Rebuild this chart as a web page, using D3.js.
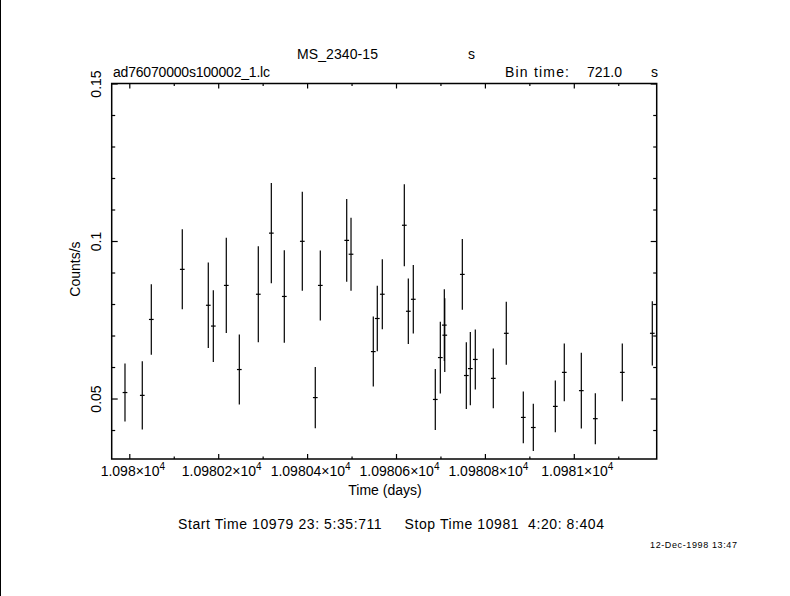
<!DOCTYPE html>
<html><head><meta charset="utf-8">
<script src="https://cdn.jsdelivr.net/npm/d3@7"></script>
<style>
body{margin:0;background:#fff;}
svg{display:block;font-family:"Liberation Sans",Arial,Helvetica,sans-serif;}
text{fill:#000;}
</style></head>
<body>
<script>
// ---- data ----
const time = [10979.9903,10980.0292,10980.0495,10980.1192,10980.1777,10980.1890,10980.2182,10980.2475,10980.2902,10980.3195,
              10980.3487,10980.3892,10980.4184,10980.4297,10980.4891,10980.4988,10980.5489,10980.5579,10980.5692,10980.6187,
              10980.6277,10980.6389,10980.6884,10980.6997,10980.7087,10980.7097,10980.7492,10980.7582,10980.7672,10980.7784,
              10980.8189,10980.8481,10980.8864,10980.9089,10980.9584,10980.9786,10981.0169,10981.0484,10981.1091,10981.1766];
const rate = [0.0519,0.0510,0.0751,0.0910,0.0796,0.0730,0.0859,0.0592,0.0831,0.1025,
              0.0824,0.0999,0.0503,0.0859,0.1002,0.0958,0.0649,0.0754,0.0831,0.1050,
              0.0777,0.0815,0.0497,0.0630,0.0733,0.0701,0.0894,0.0573,0.0595,0.0624,
              0.0564,0.0707,0.0440,0.0408,0.0475,0.0583,0.0525,0.0436,0.0583,0.0707];
const rateErr = [0.0092,0.0108,0.0112,0.0127,0.0136,0.0114,0.0151,0.0111,0.0152,0.0159,
                 0.0147,0.0157,0.0097,0.0111,0.0131,0.0116,0.0111,0.0104,0.0111,0.0130,
                 0.0104,0.0109,0.0097,0.0114,0.0114,0.0117,0.0112,0.0106,0.0116,0.0095,
                 0.0095,0.0100,0.0082,0.0075,0.0082,0.0092,0.0120,0.0081,0.0092,0.0102];
const binTimeSec = 721.0;
const xDomain = [10979.9604, 10981.1865];
const yDomain = [0.0308, 0.15];
const xMajorTicks = [10980.0,10980.2,10980.4,10980.6,10980.8,10981.0];
const xMajorLabels = ["1.098","1.09802","1.09804","1.09806","1.09808","1.0981"];
const yMajorTicks = [0.05,0.1,0.15];
const yMajorLabels = ["0.05","0.1","0.15"];

const W=790,H=596;
const L=111.7,R=656.7,T=83.5,B=459;
const svg=d3.select("body").append("svg").attr("width",W).attr("height",H);

const x=d3.scaleLinear().domain(xDomain).range([L,R]);
const y=d3.scaleLinear().domain(yDomain).range([B,T]);

const xMinor=d3.range(10979.9,10981.25,0.1).map(v=>+v.toFixed(1)).filter(v=>v>=xDomain[0]&&v<=xDomain[1]&&!xMajorTicks.some(m=>Math.abs(m-v)<1e-6));
const yMinor=d3.range(0.03,0.151,0.01).map(v=>+v.toFixed(2)).filter(v=>v>=yDomain[0]&&v<=yDomain[1]&&!yMajorTicks.some(m=>Math.abs(m-v)<1e-6));

function styleAxis(g){g.select(".domain").remove();g.selectAll("line").attr("stroke","#000").attr("stroke-width",1.2);}

// frame
svg.append("rect").attr("x",L).attr("y",T).attr("width",R-L).attr("height",B-T)
  .attr("fill","none").attr("stroke","#000").attr("stroke-width",1.5);
// left page edge line
svg.append("line").attr("x1",0.5).attr("x2",0.5).attr("y1",0).attr("y2",H).attr("stroke","#000").attr("stroke-width",1);

const fs=14;
// bottom axis
const gb=svg.append("g").attr("transform",`translate(0,${B})`)
  .call(d3.axisBottom(x).tickValues(xMajorTicks).tickSize(-5).tickFormat(""));
styleAxis(gb);
gb.selectAll(".tick text").remove();
gb.selectAll(".tick").append("text").attr("y",17).attr("text-anchor","middle")
  .attr("font-size",fs).attr("dx",3)
  .each(function(d,i){
    const t=d3.select(this);
    t.append("tspan").text(xMajorLabels[i]+"\u00d710");
    t.append("tspan").attr("dy",-6).attr("font-size",10).text("4");
  });
const gbm=svg.append("g").attr("transform",`translate(0,${B})`)
  .call(d3.axisBottom(x).tickValues(xMinor).tickSize(-2.5).tickFormat(""));
styleAxis(gbm);
// top axis
const gt=svg.append("g").attr("transform",`translate(0,${T})`)
  .call(d3.axisTop(x).tickValues(xMajorTicks).tickSize(-5).tickFormat(""));
styleAxis(gt);
const gtm=svg.append("g").attr("transform",`translate(0,${T})`)
  .call(d3.axisTop(x).tickValues(xMinor).tickSize(-2.5).tickFormat(""));
styleAxis(gtm);
// left axis
const gl=svg.append("g").attr("transform",`translate(${L},0)`)
  .call(d3.axisLeft(y).tickValues(yMajorTicks).tickSize(-6).tickFormat(""));
styleAxis(gl);
gl.selectAll(".tick text").remove();
gl.selectAll(".tick").append("text").attr("transform","translate(-11,0) rotate(-90)")
  .attr("text-anchor","middle").attr("font-size",fs).text((d,i)=>yMajorLabels[i]);
const glm=svg.append("g").attr("transform",`translate(${L},0)`)
  .call(d3.axisLeft(y).tickValues(yMinor).tickSize(-3.5).tickFormat(""));
styleAxis(glm);
// right axis
const gr=svg.append("g").attr("transform",`translate(${R},0)`)
  .call(d3.axisRight(y).tickValues(yMajorTicks).tickSize(-6).tickFormat(""));
styleAxis(gr);
const grm=svg.append("g").attr("transform",`translate(${R},0)`)
  .call(d3.axisRight(y).tickValues(yMinor).tickSize(-3.5).tickFormat(""));
styleAxis(grm);

// data error bars
const halfBin=binTimeSec/86400/2;
const pts=time.map((t,i)=>({t,v:rate[i],e:rateErr[i]}));
const gd=svg.append("g").attr("stroke","#000").attr("stroke-width",1.2);
gd.selectAll("line.v").data(pts).join("line").attr("class","v")
  .attr("x1",d=>x(d.t)).attr("x2",d=>x(d.t))
  .attr("y1",d=>y(d.v-d.e)).attr("y2",d=>y(d.v+d.e));
gd.selectAll("line.h").data(pts).join("line").attr("class","h")
  .attr("x1",d=>x(d.t-halfBin)-0.5).attr("x2",d=>x(d.t+halfBin)+0.5)
  .attr("y1",d=>y(d.v)).attr("y2",d=>y(d.v));

// texts
svg.append("text").attr("x",297).attr("y",59).attr("font-size",fs).attr("textLength",81).text("MS_2340-15");
svg.append("text").attr("x",468).attr("y",59).attr("font-size",fs).text("s");
svg.append("text").attr("x",113).attr("y",77).attr("font-size",fs).attr("textLength",157).text("ad76070000s100002_1.lc");
svg.append("text").attr("x",505).attr("y",77).attr("font-size",fs).attr("textLength",64).text("Bin time:");
svg.append("text").attr("x",587).attr("y",77).attr("font-size",fs).text("721.0");
svg.append("text").attr("x",651).attr("y",77).attr("font-size",fs).text("s");
svg.append("text").attr("x",385).attr("y",495).attr("text-anchor","middle").attr("font-size",fs).text("Time (days)");
svg.append("text").attr("transform","translate(80,269) rotate(-90)").attr("text-anchor","middle").attr("font-size",fs).text("Counts/s");
svg.append("text").attr("x",178).attr("y",529).attr("font-size",fs).attr("xml:space","preserve").style("white-space","pre")
  .attr("textLength",426).text("Start Time 10979 23: 5:35:711     Stop Time 10981  4:20: 8:404");
svg.append("text").attr("x",650).attr("y",548).attr("font-size",9).attr("textLength",87).text("12-Dec-1998 13:47");
</script>
</body></html>
